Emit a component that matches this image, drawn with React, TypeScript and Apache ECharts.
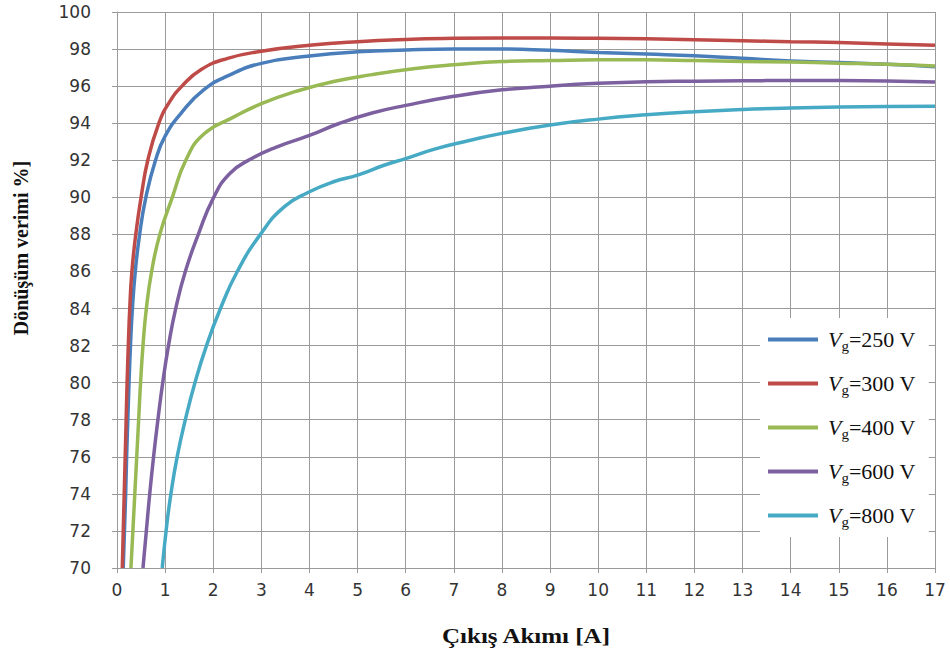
import React, { useEffect, useRef } from "react";
import * as echarts from "echarts";

const xTicks = { min: 0, max: 17, interval: 1 };
const yTicks = { min: 70, max: 100, interval: 2 };

const seriesNames = ["250", "300", "400", "600", "800"];
const seriesColors = ["#4A7EBB", "#BE4B48", "#98B954", "#7D60A0", "#46AAC5"];

const vg250: [number, number][] = [
  [0.13, 70], [0.155, 72], [0.18, 74], [0.2, 76], [0.225, 78], [0.25, 80], [0.28, 82],
  [0.32, 84], [0.38, 86], [0.47, 88], [0.6, 90], [0.8, 92], [1.0, 93.3], [1.35, 94.6],
  [1.8, 95.8], [2.3, 96.55], [3, 97.23], [4, 97.62], [5, 97.85], [6, 97.95], [7, 98.0],
  [8, 98.0], [9, 97.93], [10, 97.82], [11, 97.73], [12, 97.64], [13, 97.5], [14, 97.36],
  [15, 97.27], [16, 97.18], [17, 97.05],
];
const vg300: [number, number][] = [
  [0.11, 70], [0.13, 72], [0.15, 74], [0.17, 76], [0.19, 78], [0.21, 80], [0.235, 82],
  [0.265, 84], [0.31, 86], [0.39, 88], [0.5, 90], [0.64, 92], [0.87, 94], [1.08, 95.1],
  [1.35, 96.0], [1.75, 96.9], [2.3, 97.5], [3, 97.88], [4, 98.2], [5, 98.4], [6, 98.52],
  [7, 98.58], [8, 98.6], [9, 98.6], [10, 98.58], [11, 98.55], [12, 98.5], [13, 98.45],
  [14, 98.4], [15, 98.35], [16, 98.28], [17, 98.2],
];
const vg400: [number, number][] = [
  [0.29, 70], [0.33, 72], [0.37, 74], [0.41, 76], [0.45, 78], [0.49, 80], [0.54, 82],
  [0.61, 84], [0.72, 86], [0.89, 88], [1.15, 90], [1.43, 92], [1.8, 93.4], [2.4, 94.3],
  [3, 95.05], [3.7, 95.7], [4.5, 96.25], [5.3, 96.62], [6.2, 96.95], [7, 97.15],
  [8, 97.33], [9, 97.38], [10, 97.42], [11, 97.42], [12, 97.38], [13, 97.33], [14, 97.3],
  [15, 97.24], [16, 97.18], [17, 97.08],
];
const vg600: [number, number][] = [
  [0.54, 70], [0.61, 72], [0.68, 74], [0.76, 76], [0.85, 78], [0.95, 80], [1.07, 82],
  [1.22, 84], [1.42, 86], [1.69, 88], [2.01, 90], [2.35, 91.3], [2.77, 92.05], [3.3, 92.7],
  [4, 93.34], [4.6, 93.97], [5.3, 94.55], [6, 94.96], [7, 95.45], [8, 95.8], [9, 96.0],
  [10, 96.15], [11, 96.24], [12, 96.27], [13, 96.29], [14, 96.3], [15, 96.3], [16, 96.28],
  [17, 96.22],
];
const vg800: [number, number][] = [
  [0.94, 70], [1.02, 72], [1.12, 74], [1.25, 76], [1.42, 78], [1.62, 80], [1.86, 82],
  [2.15, 84], [2.5, 86], [2.98, 88], [3.48, 89.5], [4, 90.3], [4.5, 90.84], [5, 91.2],
  [5.55, 91.73], [6, 92.09], [6.6, 92.6], [7.3, 93.05], [8, 93.45], [9, 93.9], [10, 94.22],
  [11, 94.45], [12, 94.62], [13, 94.74], [14, 94.82], [15, 94.87], [16, 94.9], [17, 94.92],
];
const seriesData = [vg250, vg300, vg400, vg600, vg800];

const xTitle = "Çıkış Akımı [A]";
const yTitle = "Dönüşüm verimi %]";

export default function App() {
  const ref = useRef<HTMLDivElement>(null);
  useEffect(() => {
    if (!ref.current) return;
    const chart = echarts.init(ref.current, undefined, { renderer: "svg" });
    const gridColor = "#9a9a9a";
    const labelFont = {
      fontFamily: "DejaVu Sans",
      fontSize: 17,
      color: "#333333",
    };
    chart.setOption({
      animation: false,
      backgroundColor: "#ffffff",
      grid: { left: 117, right: 15, top: 12, bottom: 90, containLabel: false },
      xAxis: {
        type: "value",
        min: xTicks.min,
        max: xTicks.max,
        interval: xTicks.interval,
        axisLine: { show: true, lineStyle: { color: gridColor, width: 1 } },
        axisTick: { show: true, length: 5, lineStyle: { color: gridColor } },
        splitLine: { show: true, lineStyle: { color: gridColor, width: 1 } },
        axisLabel: { ...labelFont, margin: 13 },
      },
      yAxis: {
        type: "value",
        min: yTicks.min,
        max: yTicks.max,
        interval: yTicks.interval,
        axisLine: { show: true, lineStyle: { color: gridColor, width: 1 } },
        axisTick: { show: true, length: 5, lineStyle: { color: gridColor } },
        splitLine: { show: true, lineStyle: { color: gridColor, width: 1 } },
        axisLabel: { ...labelFont, margin: 26 },
      },
      legend: {
        orient: "vertical",
        left: 760,
        top: 318,
        padding: [8, 13, 8, 8],
        backgroundColor: "#ffffff",
        itemWidth: 50,
        itemHeight: 4,
        itemGap: 17,
        icon: "rect",
        data: seriesNames.map((n) => "Vg=" + n + " V"),
        formatter: (name: string) => {
          const v = name.replace("Vg", "");
          return "{i|V}{s|g}{n|" + v + "}";
        },
        textStyle: {
          fontFamily: "Liberation Serif",
          fontSize: 22,
          color: "#111111",
          rich: {
            i: { fontFamily: "Liberation Serif", fontSize: 22, fontStyle: "italic", color: "#111111", lineHeight: 26, padding: [0, 0, 0, 5] },
            s: { fontFamily: "Liberation Serif", fontSize: 15, color: "#111111", lineHeight: 26, padding: [12, 0, 0, 0] },
            n: { fontFamily: "Liberation Serif", fontSize: 22, color: "#111111", lineHeight: 26 },
          },
        },
      },
      graphic: [
        {
          type: "text",
          x: 526,
          y: 636,
          scaleX: 1.25,
          style: {
            text: xTitle,
            font: "bold 20px 'Liberation Serif'",
            fill: "#111111",
            textAlign: "center",
            textVerticalAlign: "middle",
          },
        },
        {
          type: "text",
          x: 21,
          y: 248,
          rotation: Math.PI / 2,
          style: {
            text: yTitle,
            font: "bold 20px 'Liberation Serif'",
            fill: "#111111",
            textAlign: "center",
            textVerticalAlign: "middle",
          },
        },
      ],
      series: seriesData.map((d, i) => ({
        name: "Vg=" + seriesNames[i] + " V",
        type: "line",
        data: d,
        smooth: 0.5,
        showSymbol: false,
        symbol: "none",
        color: seriesColors[i],
        lineStyle: { width: 3.5, color: seriesColors[i] },
      })),
    });
    return () => chart.dispose();
  }, []);
  return <div ref={ref} style={{ width: 950, height: 658, position: "absolute", left: 0, top: 0 }} />;
}
